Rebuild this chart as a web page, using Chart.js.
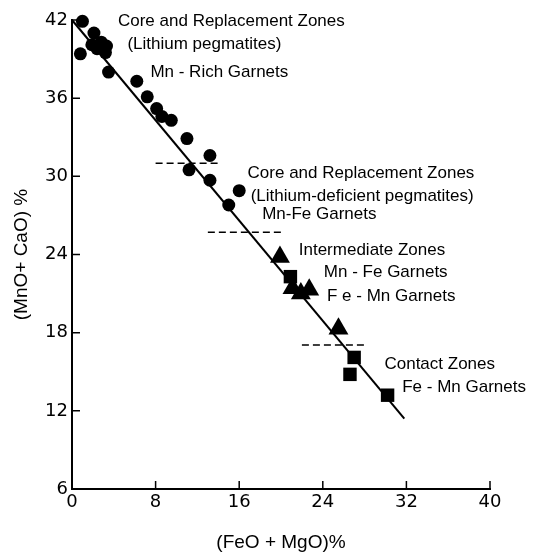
<!DOCTYPE html>
<html><head><meta charset="utf-8">
<script src="https://cdn.jsdelivr.net/npm/chart.js@4.4.0/dist/chart.umd.min.js"></script>
<style>html,body{margin:0;padding:0;background:#fff;}#wrap{width:540px;height:554px;}</style>
</head><body><div id="wrap"><canvas id="c" width="540" height="554"></canvas></div>
<script>
const xTicks = [0, 8, 16, 24, 32, 40];
const yTicks = [6, 12, 18, 24, 30, 36, 42];

const circleX = [1.0, 2.1, 0.8, 1.9, 2.8, 3.3, 3.2, 2.4, 3.5, 6.2, 7.2, 8.1, 8.6, 9.5, 11.0, 13.2, 11.2, 13.2, 16.0, 15.0];
const circleY = [41.9, 41.0, 39.4, 40.1, 40.3, 40.0, 39.5, 39.8, 38.0, 37.3, 36.1, 35.2, 34.6, 34.3, 32.9, 31.6, 30.5, 29.7, 28.9, 27.8];

const triX = [19.9, 21.1, 21.9, 22.7, 25.5];
const triY = [23.8, 21.4, 21.0, 21.3, 18.3];

const sqX = [20.9, 27.0, 26.6, 30.2];
const sqY = [22.3, 16.1, 14.8, 13.2];

const fitX = [0, 31.8];
const fitY = [42, 11.4];

const dashX1 = [8, 14.0];   const dashY1 = [31.0, 31.0];
const dashX2 = [13, 20.1];  const dashY2 = [25.7, 25.7];
const dashX3 = [22, 28.1];  const dashY3 = [17.05, 17.05];

const labelText = [
  "Core and Replacement Zones", "(Lithium pegmatites)", "Mn - Rich Garnets",
  "Core and Replacement Zones", "(Lithium-deficient pegmatites)", "Mn-Fe Garnets",
  "Intermediate Zones", "Mn - Fe Garnets", "F e - Mn Garnets",
  "Contact Zones", "Fe - Mn Garnets"
];
const labelX = [4.4, 5.3, 7.5, 16.8, 17.1, 18.2, 21.7, 24.1, 24.4, 29.9, 31.6];
const labelY = [41.9, 40.1, 38.0, 30.2, 28.5, 27.1, 24.3, 22.6, 20.8, 15.6, 13.8];

function pts(xs, ys) { return xs.map((x, i) => ({x: x, y: ys[i]})); }

const FONT = "'Liberation Sans', Arial, sans-serif";

const innerTicks = {
  id: 'innerTicks',
  afterDraw(chart) {
    const {ctx, chartArea, scales} = chart;
    ctx.save();
    ctx.strokeStyle = '#000';
    ctx.lineWidth = 1.5;
    ctx.beginPath();
    xTicks.forEach(v => {
      if (v === 0) return;
      const px = scales.x.getPixelForValue(v);
      ctx.moveTo(px, chartArea.bottom);
      ctx.lineTo(px, chartArea.bottom - 8);
    });
    yTicks.forEach(v => {
      if (v === 6) return;
      const py = scales.y.getPixelForValue(v);
      ctx.moveTo(chartArea.left, py);
      ctx.lineTo(chartArea.left + 8, py);
    });
    ctx.stroke();
    ctx.fillStyle = '#000';
    ctx.font = "17px " + FONT;
    ctx.textBaseline = 'middle';
    ctx.textAlign = 'left';
    labelText.forEach((t, i) => {
      ctx.fillText(t, scales.x.getPixelForValue(labelX[i]), scales.y.getPixelForValue(labelY[i]));
    });
    ctx.restore();
  }
};

new Chart(document.getElementById('c'), {
  type: 'scatter',
  data: {
    datasets: [
      {data: pts(fitX, fitY), showLine: true, borderColor: '#000', borderWidth: 2, pointRadius: 0, clip: false},
      {data: pts(dashX1, dashY1), showLine: true, borderColor: '#000', borderWidth: 1.5, borderDash: [7, 4], pointRadius: 0},
      {data: pts(dashX2, dashY2), showLine: true, borderColor: '#000', borderWidth: 1.5, borderDash: [7, 4], pointRadius: 0},
      {data: pts(dashX3, dashY3), showLine: true, borderColor: '#000', borderWidth: 1.5, borderDash: [7, 4], pointRadius: 0},
      {data: pts(circleX, circleY), pointStyle: 'circle', pointRadius: 6.5, backgroundColor: '#000', borderColor: '#000', borderWidth: 0, clip: false},
      {data: pts(triX, triY), pointStyle: 'triangle', pointRadius: 11.5, backgroundColor: '#000', borderColor: '#000', borderWidth: 0, clip: false},
      {data: pts(sqX, sqY), pointStyle: 'rect', pointRadius: 9.5, backgroundColor: '#000', borderColor: '#000', borderWidth: 0, clip: false}
    ]
  },
  options: {
    responsive: false,
    animation: false,
    devicePixelRatio: 1,
    layout: {padding: {top: 20, right: 50, left: 0, bottom: 0}},
    plugins: {legend: {display: false}, tooltip: {enabled: false}},
    scales: {
      x: {
        type: 'linear', min: 0, max: 40,
        afterBuildTicks: s => { s.ticks = xTicks.map(v => ({value: v})); },
        afterFit: s => { s.height = 65; },
        grid: {display: true, drawOnChartArea: false, drawTicks: false},
        border: {display: true, color: '#000', width: 2},
        ticks: {color: '#000', padding: 3, maxRotation: 0, font: {family: "'DejaVu Sans', sans-serif", size: 18}},
        title: {display: true, text: '(FeO + MgO)%', color: '#000', font: {family: FONT, size: 19}, padding: {top: 14, bottom: 0}}
      },
      y: {
        type: 'linear', min: 6, max: 42,
        afterBuildTicks: s => { s.ticks = yTicks.map(v => ({value: v})); },
        afterFit: s => { s.width = 72; },
        grid: {display: true, drawOnChartArea: false, drawTicks: false},
        border: {display: true, color: '#000', width: 2},
        ticks: {color: '#000', padding: 4, font: {family: "'DejaVu Sans', sans-serif", size: 18}},
        title: {display: true, text: '(MnO+ CaO) %', color: '#000', font: {family: FONT, size: 19}, padding: {top: 10, bottom: 6}}
      }
    }
  },
  plugins: [innerTicks]
});
</script>
</body></html>
